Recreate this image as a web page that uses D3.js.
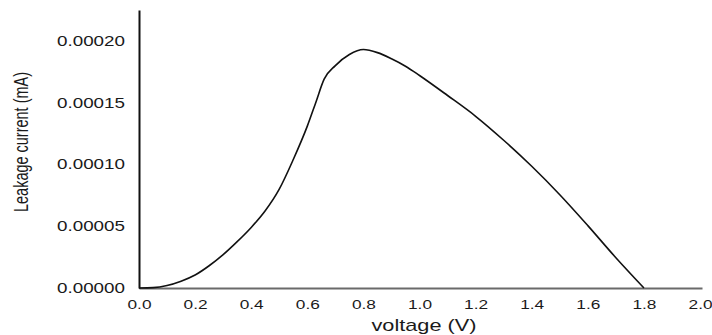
<!DOCTYPE html>
<html>
<head>
<meta charset="utf-8">
<script src="https://cdn.jsdelivr.net/npm/d3@7"></script>
<style>
  body { margin: 0; background: #fff; }
  text { font-family: "Liberation Sans", Arial, sans-serif; fill: #1a1a1a; }
</style>
</head>
<body>
<svg id="chart" width="712" height="335"></svg>
<script>
// readings (V, mA)
var voltage = [0.00, 0.05, 0.10, 0.15, 0.20, 0.25, 0.30, 0.35, 0.40, 0.45, 0.50, 0.55, 0.60, 0.63, 0.66,
  0.70, 0.75, 0.80, 0.85, 0.90, 0.95, 1.00, 1.10, 1.20, 1.30, 1.40, 1.50, 1.60, 1.70, 1.80]
var current = [0, 0.0000003, 0.0000020, 0.0000055, 0.0000105, 0.0000180, 0.0000270, 0.0000375, 0.0000490,
  0.0000625, 0.0000800, 0.0001040, 0.0001310, 0.0001500, 0.0001690, 0.0001800, 0.0001890, 0.0001930,
  0.0001905, 0.0001855, 0.0001795, 0.0001720, 0.0001558, 0.0001390, 0.0001196, 0.0000985, 0.0000755,
  0.0000505, 0.0000245, 0]
var xTicks = [0, 0.2, 0.4, 0.6, 0.8, 1.0, 1.2, 1.4, 1.6, 1.8, 2.0]
var yTicks = [0, 0.00005, 0.0001, 0.00015, 0.0002]

var svg = d3.select('#chart')

var x = d3.scaleLinear().domain([0, 2.007]).range([139, 702])
var y = d3.scaleLinear().domain([0, 0.000225]).range([288, 10])

var pts = voltage.map((v, i) => [v, current[i]])

// x axis
var gx = svg.append('g')
  .attr('transform', 'translate(0,288)')
  .call(d3.axisBottom(x).tickValues(xTicks).tickSize(0).tickSizeOuter(0).tickPadding(12)
    .tickFormat(d3.format('.1f')))
gx.attr('font-family', null)
gx.select('.domain').attr('stroke', '#6a6a6a').attr('stroke-width', 2)
gx.selectAll('text')
  .attr('font-size', 12)
  .attr('textLength', 24)
  .attr('lengthAdjust', 'spacingAndGlyphs')

// y axis
var gy = svg.append('g')
  .attr('transform', 'translate(139,0)')
  .call(d3.axisLeft(y).tickValues(yTicks).tickSize(0).tickSizeOuter(0).tickPadding(14)
    .tickFormat(d3.format('.5f')))
gy.attr('font-family', null)
gy.select('.domain').attr('stroke', '#111').attr('stroke-width', 2)
gy.selectAll('text')
  .attr('font-size', 14)
  .attr('textLength', 68)
  .attr('lengthAdjust', 'spacingAndGlyphs')

// curve
svg.append('path')
  .datum(pts)
  .attr('fill', 'none')
  .attr('stroke', '#111')
  .attr('stroke-width', 1.6)
  .attr('d', d3.line().x(d => x(d[0])).y(d => y(d[1])).curve(d3.curveMonotoneX))

// titles
svg.append('text')
  .attr('x', 424)
  .attr('y', 331)
  .attr('text-anchor', 'middle')
  .attr('font-size', 17)
  .attr('textLength', 105)
  .attr('lengthAdjust', 'spacingAndGlyphs')
  .text('voltage (V)')

svg.append('text')
  .attr('transform', 'translate(28,142) rotate(-90)')
  .attr('text-anchor', 'middle')
  .attr('font-size', 20)
  .attr('textLength', 140)
  .attr('lengthAdjust', 'spacingAndGlyphs')
  .text('Leakage current (mA)')
</script>
</body>
</html>
